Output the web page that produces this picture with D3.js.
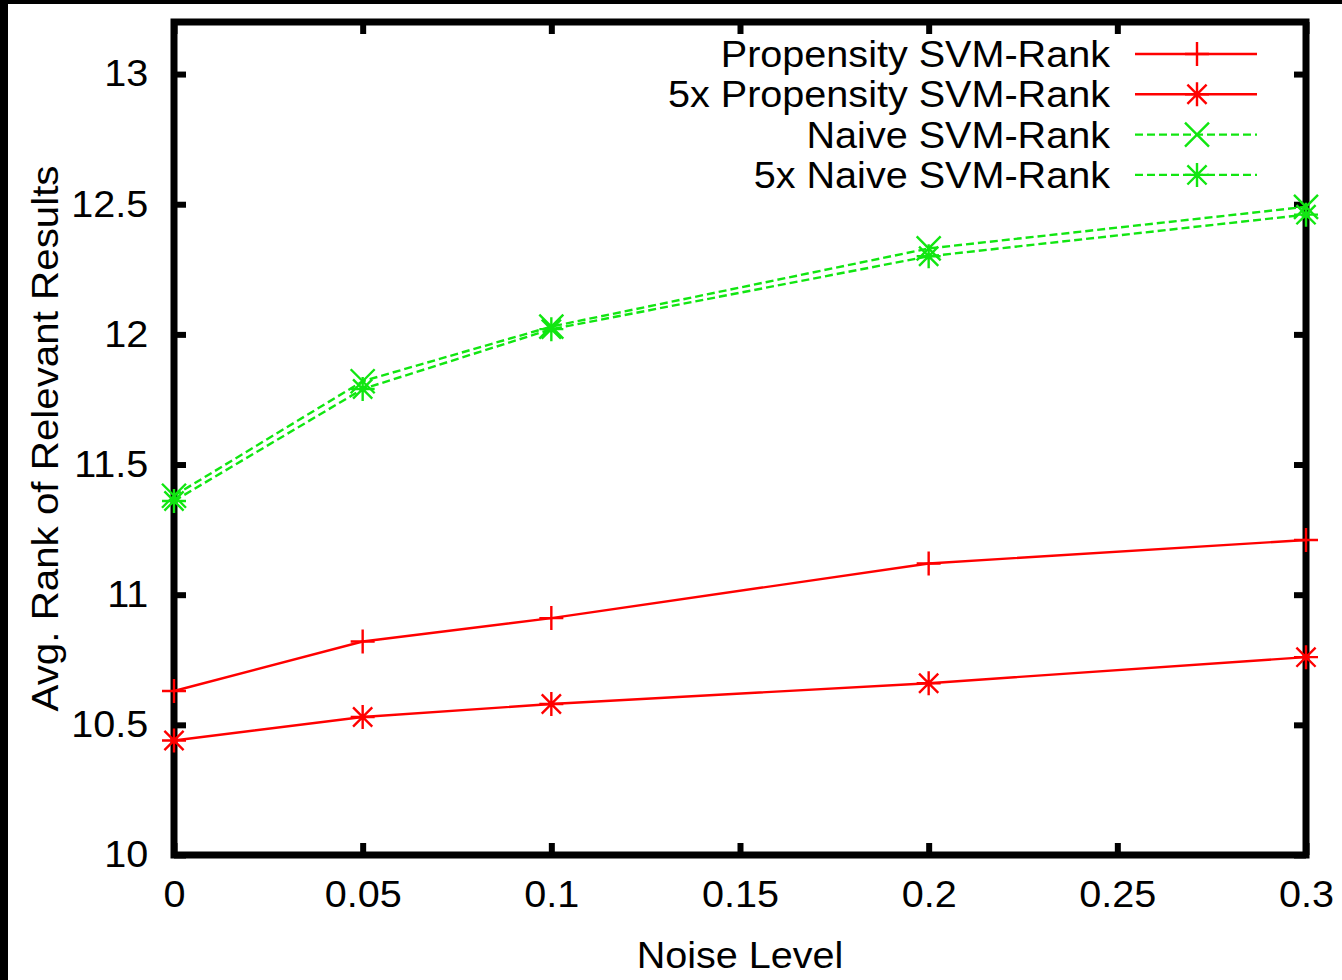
<!DOCTYPE html>
<html>
<head>
<meta charset="utf-8">
<script src="https://cdn.jsdelivr.net/npm/d3@7"></script>
<style>
  body { margin: 0; background: #fff; }
  svg { display: block; }
  text { font-family: "Liberation Sans", Arial, sans-serif; fill: #000; }
</style>
</head>
<body>
<div id="chart"></div>
<script>
const width = 1342, height = 980

// data
const noiseLevels = [0, 0.05, 0.1, 0.2, 0.3]
const propensity = [10.63, 10.82, 10.91, 11.12, 11.21]
const propensity5x = [10.44, 10.53, 10.58, 10.66, 10.76]
const naive = [11.38, 11.82, 12.03, 12.33, 12.49]
const naive5x = [11.36, 11.79, 12.02, 12.30, 12.46]

const xTicks = [0, 0.05, 0.1, 0.15, 0.2, 0.25, 0.3]
const yTicks = [10, 10.5, 11, 11.5, 12, 12.5, 13]
const xTickLabels = ["0", "0.05", "0.1", "0.15", "0.2", "0.25", "0.3"]
const yTickLabels = ["10", "10.5", "11", "11.5", "12", "12.5", "13"]

const series = [
    { name: "Propensity SVM-Rank", values: propensity, color: "#ff0000", dash: null, marker: "plus" },
    { name: "5x Propensity SVM-Rank", values: propensity5x, color: "#ff0000", dash: null, marker: "star" },
    { name: "Naive SVM-Rank", values: naive, color: "#11e611", dash: "8,4", marker: "cross" },
    { name: "5x Naive SVM-Rank", values: naive5x, color: "#11e611", dash: "8,4", marker: "star" }
]

const margin = { top: 22, right: 36, bottom: 125, left: 174 }
const stretch = 1.07  // the original text is a little wide

const svg = d3.select("#chart")
    .append("svg")
    .attr("width", width)
    .attr("height", height)

// black frame edges of the scan
svg.append("rect").attr("x", 0).attr("y", 0).attr("width", width).attr("height", 4).attr("fill", "#000")
svg.append("rect").attr("x", 0).attr("y", 0).attr("width", 8).attr("height", height).attr("fill", "#000")

const xScale = d3.scaleLinear().domain([0, 0.3]).range([margin.left, width - margin.right])
const yScale = d3.scaleLinear().domain([10, 13.2]).range([height - margin.bottom, margin.top])

// inward ticks on all four sides
const tickLen = 12
function styleAxis(g) {
    g.select(".domain").remove()
    g.selectAll(".tick line").attr("stroke", "#000").attr("stroke-width", 6)
}

svg.append("g")
    .attr("transform", `translate(0,${yScale(10)})`)
    .call(d3.axisBottom(xScale).tickValues(xTicks).tickSizeInner(-tickLen).tickSizeOuter(0)
        .tickPadding(26).tickFormat((d, i) => xTickLabels[i]))
    .call(styleAxis)
    .selectAll("text")
    .attr("font-size", 37)
    .attr("transform", `scale(${stretch},1)`)

svg.append("g")
    .attr("transform", `translate(0,${yScale(13.2)})`)
    .call(d3.axisTop(xScale).tickValues(xTicks).tickSizeInner(-tickLen).tickSizeOuter(0).tickFormat(""))
    .call(styleAxis)

svg.append("g")
    .attr("transform", `translate(${xScale(0)},0)`)
    .call(d3.axisLeft(yScale).tickValues(yTicks).tickSizeInner(-tickLen).tickSizeOuter(0)
        .tickPadding(24).tickFormat((d, i) => yTickLabels[i]))
    .call(styleAxis)
    .selectAll("text")
    .attr("font-size", 37)
    .attr("transform", `scale(${stretch},1)`)

svg.append("g")
    .attr("transform", `translate(${xScale(0.3)},0)`)
    .call(d3.axisRight(yScale).tickValues(yTicks).tickSizeInner(-tickLen).tickSizeOuter(0).tickFormat(""))
    .call(styleAxis)

// border box
svg.append("rect")
    .attr("x", xScale(0))
    .attr("y", yScale(13.2))
    .attr("width", xScale(0.3) - xScale(0))
    .attr("height", yScale(10) - yScale(13.2))
    .attr("fill", "none")
    .attr("stroke", "#000")
    .attr("stroke-width", 7)

// axis titles
svg.append("text")
    .attr("transform", `translate(${(xScale(0) + xScale(0.3)) / 2},968) scale(${stretch},1)`)
    .attr("text-anchor", "middle")
    .attr("font-size", 37)
    .text("Noise Level")

svg.append("text")
    .attr("transform", `translate(58,${(yScale(10) + yScale(13.2)) / 2}) rotate(-90) scale(${stretch + 0.02},1)`)
    .attr("text-anchor", "middle")
    .attr("font-size", 37)
    .text("Avg. Rank of Relevant Results")

// marker shapes
const mk = 12
function markerPath(type) {
    const plus = `M${-mk},0H${mk}M0,${-mk}V${mk}`
    const d = mk * 0.8
    const cross = `M${-d},${-d}L${d},${d}M${-d},${d}L${d},${-d}`
    if (type === "plus") return plus
    if (type === "cross") return `M${-mk},${-mk}L${mk},${mk}M${-mk},${mk}L${mk},${-mk}`
    return plus + cross
}

const line = d3.line()
    .x((d, i) => xScale(noiseLevels[i]))
    .y(d => yScale(d))

series.forEach(s => {
    svg.append("path")
        .datum(s.values)
        .attr("fill", "none")
        .attr("stroke", s.color)
        .attr("stroke-width", 2.4)
        .attr("stroke-dasharray", s.dash)
        .attr("d", line)

    svg.selectAll(null)
        .data(s.values)
        .enter().append("path")
        .attr("transform", (d, i) => `translate(${xScale(noiseLevels[i])},${yScale(d)})`)
        .attr("d", markerPath(s.marker))
        .attr("fill", "none")
        .attr("stroke", s.color)
        .attr("stroke-width", 2.4)
})

// legend
const legend = svg.append("g")
series.forEach((s, i) => {
    const y = 54 + i * 40.3
    legend.append("text")
        .attr("transform", `translate(1110,${y + 13}) scale(${stretch},1)`)
        .attr("text-anchor", "end")
        .attr("font-size", 37)
        .text(s.name)
    legend.append("line")
        .attr("x1", 1135).attr("x2", 1257)
        .attr("y1", y).attr("y2", y)
        .attr("stroke", s.color)
        .attr("stroke-width", 2.4)
        .attr("stroke-dasharray", s.dash)
    legend.append("path")
        .attr("transform", `translate(1197,${y})`)
        .attr("d", markerPath(s.marker))
        .attr("fill", "none")
        .attr("stroke", s.color)
        .attr("stroke-width", 2.4)
})
</script>
</body>
</html>
